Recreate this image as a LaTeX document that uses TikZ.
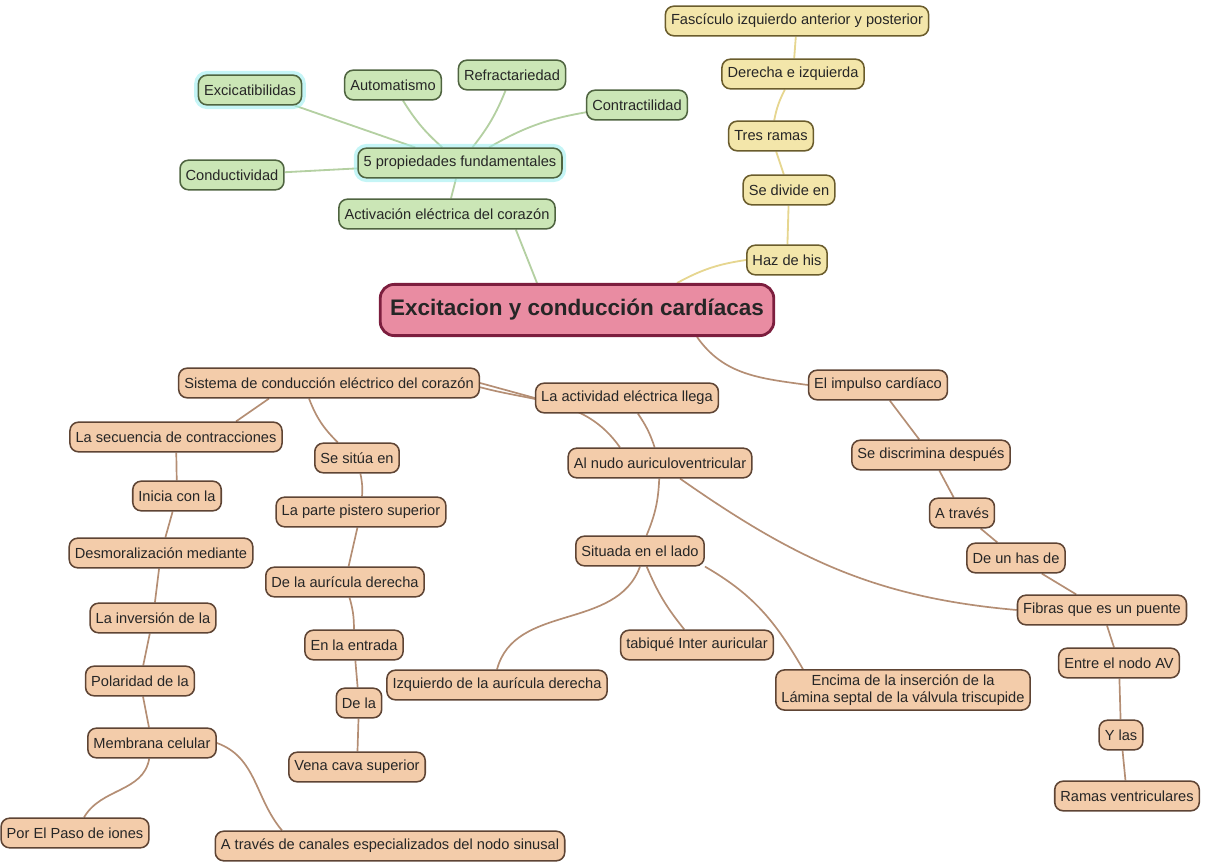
\documentclass[tikz,border=0pt]{standalone}
\usepackage{fontspec}
\setmainfont{Liberation Sans}
\definecolor{hojaverde}{HTML}{CBE6B6}
\definecolor{bordeverde}{HTML}{4F6440}
\definecolor{lineaverde}{HTML}{B4D0A2}
\definecolor{hojaamarilla}{HTML}{F3E6AA}
\definecolor{bordeamarillo}{HTML}{6A5C2C}
\definecolor{lineaamarilla}{HTML}{E6D690}
\definecolor{hojanaranja}{HTML}{F3CCAA}
\definecolor{bordenaranja}{HTML}{5E4434}
\definecolor{lineanaranja}{HTML}{B48E74}
\definecolor{hojarosa}{HTML}{E98CA2}
\definecolor{borderosa}{HTML}{7C1E3E}
\definecolor{brillo}{HTML}{9FEFF0}
\usepackage{tikz}
\usetikzlibrary{positioning, backgrounds}

\begin{document}
\begin{tikzpicture}[
  x=0.025cm, y=-0.025cm,
  hoja/.style={rounded corners=6pt, line width=1.1pt, inner xsep=4pt,
               minimum height=0.74cm, align=center, text=black!85,
               font=\fontsize{10.4}{12}\selectfont},
  verde/.style={hoja, fill=hojaverde, draw=bordeverde},
  amarilla/.style={hoja, fill=hojaamarilla, draw=bordeamarillo},
  naranja/.style={hoja, fill=hojanaranja, draw=bordenaranja},
  brilla/.style={preaction={draw=brillo, line width=6pt, opacity=0.6}},
  central/.style={rounded corners=10pt, line width=2pt, fill=hojarosa,
                  draw=borderosa, inner xsep=7pt, minimum height=1.28cm,
                  font=\fontsize{16}{19}\bfseries\selectfont, text=black!85},
  lverde/.style={lineaverde, line width=1.3pt},
  lamarilla/.style={lineaamarilla, line width=1.3pt},
  lnaranja/.style={lineanaranja, line width=1.2pt}
]
\useasboundingbox (0,0) rectangle (1212,865);

% nodo central
\node[central] (centro) at (577,310) {Excitacion y conducción cardíacas};

% propiedades
\node[verde, brilla] (prop) at (460,163) {5 propiedades fundamentales};
\node[verde, brilla] (exci) at (250,90) {Excicatibilidas};
\node[verde] (auto) at (393,85) {Automatismo};
\node[verde] (refr) at (512,75) {Refractariedad};
\node[verde] (contr) at (637,105) {Contractilidad};
\node[verde] (cond) at (232,175) {Conductividad};
\node[verde] (activ) at (447,214) {Activación eléctrica del corazón};

% haz de his
\node[amarilla] (fasc) at (797,21) {Fascículo izquierdo anterior y posterior};
\node[amarilla] (dere) at (793,74) {Derecha e izquierda};
\node[amarilla] (tres) at (771,136) {Tres ramas};
\node[amarilla] (divi) at (789,190) {Se divide en};
\node[amarilla] (haz) at (787,260) {Haz de his};

% sistema de conduccion
\node[naranja] (sist) at (329,383) {Sistema de conducción eléctrico del corazón};
\node[naranja] (llega) at (627,398) {La actividad eléctrica llega};
\node[naranja] (nudo) at (660,463) {Al nudo auriculoventricular};
\node[naranja] (secu) at (176,437) {La secuencia de contracciones};
\node[naranja] (inicia) at (177,496) {Inicia con la};
\node[naranja] (desmo) at (161,553) {Desmoralización mediante};
\node[naranja] (inver) at (153,618) {La inversión de la};
\node[naranja] (polar) at (140,681) {Polaridad de la};
\node[naranja] (membr) at (152,743) {Membrana celular};
\node[naranja] (paso) at (75,833) {Por El Paso de iones};
\node[naranja] (canal) at (390,846) {A través de canales especializados del nodo sinusal};
\node[naranja] (situa) at (357,458) {Se sitúa en};
\node[naranja] (parte) at (361,512) {La parte pistero superior};
\node[naranja] (auric) at (345,582) {De la aurícula derecha};
\node[naranja] (entrada) at (354,645) {En la entrada};
\node[naranja] (dela) at (359,703) {De la};
\node[naranja] (vena) at (357,767) {Vena cava superior};
\node[naranja] (situada) at (640,551) {Situada en el lado};
\node[naranja] (izq) at (497,685) {Izquierdo de la aurícula derecha};
\node[naranja] (tabi) at (697,645) {tabiqué Inter auricular};
\node[naranja] (encima) at (903,690) {Encima de la inserción de la\\Lámina septal de la válvula triscupide};

% impulso
\node[naranja] (impul) at (878,385) {El impulso cardíaco};
\node[naranja] (discr) at (931,455) {Se discrimina después};
\node[naranja] (atrav) at (962,513) {A través};
\node[naranja] (hasde) at (1016,558) {De un has de};
\node[naranja] (fibras) at (1102,610) {Fibras que es un puente};
\node[naranja] (entre) at (1119,663) {Entre el nodo AV};
\node[naranja] (ylas) at (1121,735) {Y las};
\node[naranja] (ramas) at (1127,796) {Ramas ventriculares};

% conectores
\begin{scope}[on background layer]
\draw[lverde] (prop) -- (exci);
\draw[lverde] (prop) to[bend left=8] (auto);
\draw[lverde] (prop) to[bend right=8] (refr);
\draw[lverde] (prop) to[bend left=10] (contr);
\draw[lverde] (prop) -- (cond);
\draw[lverde] (prop) -- (activ);
\draw[lverde] ([xshift=-1cm]activ.south east) -- ([xshift=-1cm]centro.north);

\draw[lamarilla] (haz.west) to[bend right=10] ([xshift=2.5cm]centro.north);
\draw[lamarilla] (haz) -- (divi);
\draw[lamarilla] (divi) -- (tres);
\draw[lamarilla] (tres) to[bend left=8] (dere);
\draw[lamarilla] (dere) -- (fasc);

\draw[lnaranja] ([xshift=3cm]centro.south) to[out=-55, in=172] (impul.west);
\draw[lnaranja] (sist.east) -- (llega.west);
\draw[lnaranja] ([yshift=-3pt]sist.east) to[out=-15, in=125] ([xshift=-1cm]nudo.north);
\draw[lnaranja] (llega) to[bend left=8] (nudo);
\draw[lnaranja] ([xshift=-1.5cm]sist.south) -- ([xshift=1.5cm]secu.north);
\draw[lnaranja] ([xshift=-0.5cm]sist.south) to[bend right=12] (situa);
\draw[lnaranja] (secu) -- (inicia);
\draw[lnaranja] (inicia) -- (desmo);
\draw[lnaranja] (desmo) -- (inver);
\draw[lnaranja] (inver) -- (polar);
\draw[lnaranja] (polar) -- (membr);
\draw[lnaranja] (membr) to[out=-100, in=60] (paso);
\draw[lnaranja] (membr.east) to[out=-20, in=130] ([xshift=-2.7cm]canal.north);
\draw[lnaranja] (situa) to[bend left=8] (parte);
\draw[lnaranja] (parte) -- (auric);
\draw[lnaranja] (auric) to[bend left=8] (entrada);
\draw[lnaranja] (entrada) -- (dela);
\draw[lnaranja] (dela) -- (vena);
\draw[lnaranja] (nudo) to[bend left=10] (situada);
\draw[lnaranja] ([xshift=0.5cm]nudo.south) to[out=-35, in=175] (fibras.west);
\draw[lnaranja] (situada.south) to[out=-110, in=75] (izq.north);
\draw[lnaranja] (situada) to[bend right=8] (tabi);
\draw[lnaranja] (situada.south east) to[out=-30, in=120] ([xshift=-2.5cm]encima.north);
\draw[lnaranja] (impul) -- (discr);
\draw[lnaranja] (discr) -- (atrav);
\draw[lnaranja] (atrav) -- (hasde);
\draw[lnaranja] (hasde) -- (fibras);
\draw[lnaranja] (fibras) -- (entre);
\draw[lnaranja] (entre) -- (ylas);
\draw[lnaranja] (ylas) -- (ramas);
\end{scope}
\end{tikzpicture}
\end{document}
